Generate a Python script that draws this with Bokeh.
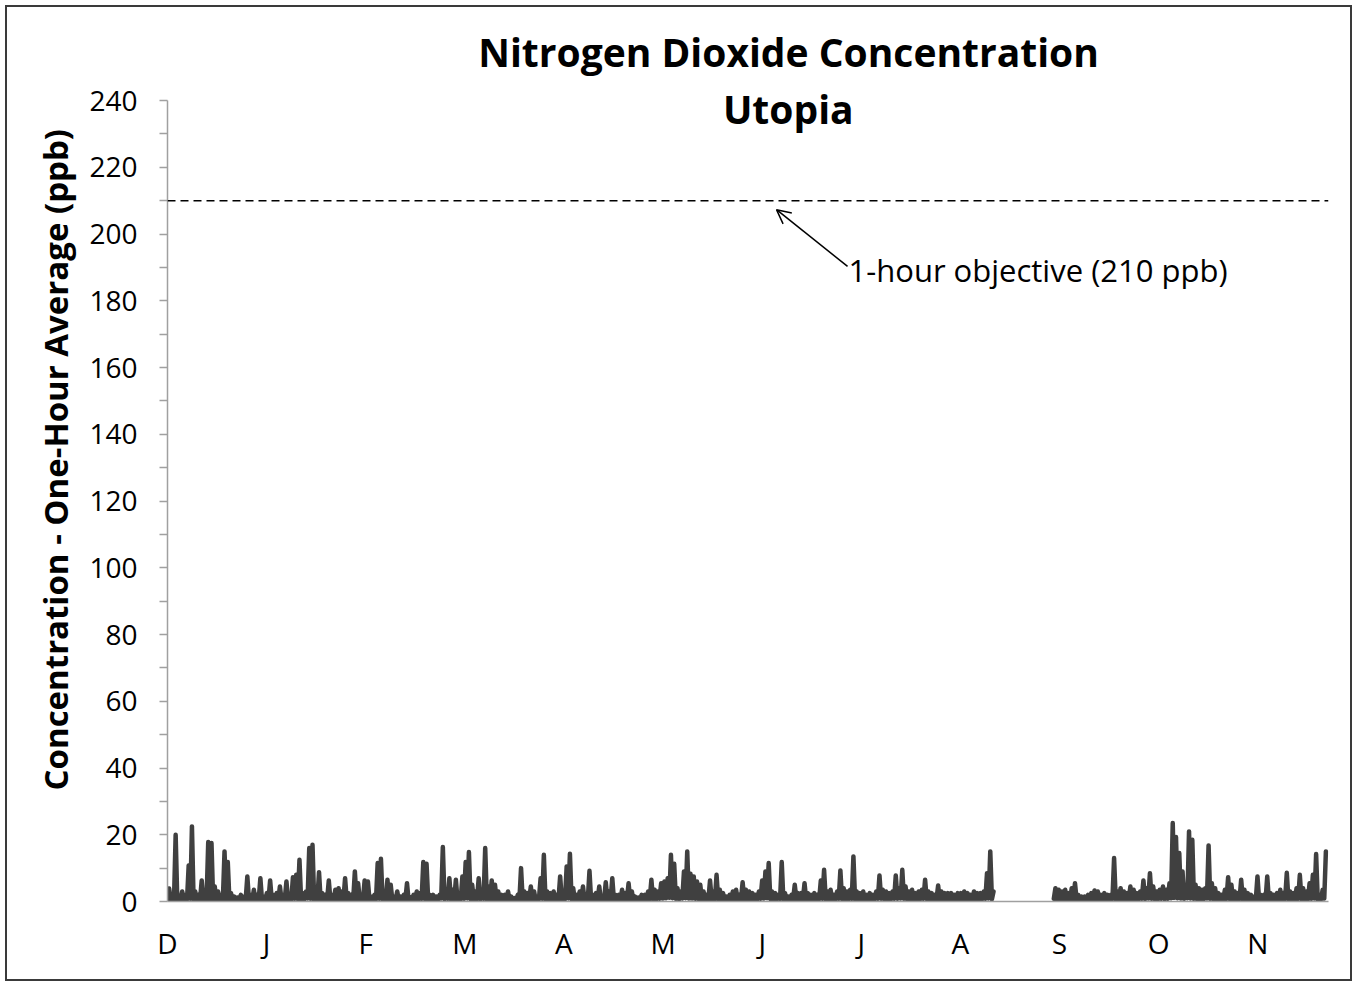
import math
from bokeh.plotting import figure
from bokeh.models import Range1d, FixedTicker, Label, Arrow, OpenHead, Span, ColumnDataSource, Title
from bokeh.embed import file_html
from bokeh.resources import INLINE

# ---------------- data ----------------
months = ["D", "J", "F", "M", "A", "M", "J", "J", "A", "S", "O", "N"]
yticks = [0, 20, 40, 60, 80, 100, 120, 140, 160, 180, 200, 220, 240]
objective_ppb = 210
title_line1 = "Nitrogen Dioxide Concentration"
title_line2 = "Utopia"
y_title = "Concentration - One-Hour Average (ppb)"
objective_text = "1-hour objective (210 ppb)"

# daily maximum of the one-hour NO2 average (ppb), None = no data
dec_max = [3.9, 2, 20, 1.5, 3, 2, 10.8, 22.5, 3, 2, 6.3, 2, 17.8, 17.5, 4.5, 3, 2, 15, 11.8, 2.5,
           1.5, 1.2, 2, 1.5, 7.5, 2, 3.5, 2, 7, 1.5, 2.5]
jan_max = [6.3, 2, 2.5, 4.5, 2, 6, 2, 7.3, 8, 12.5, 2.5, 3, 16, 17, 2.5, 8.8, 2.5, 2, 6.3, 2,
           3.5, 4, 3, 7, 2.5, 2, 9, 5.5, 2, 6.3, 6]
feb_max = [1.5, 2, 11.5, 12.8, 3, 6.5, 5, 1.5, 3, 1.5, 2, 5.5, 1.3, 2, 3, 2.5, 11.8, 11.3, 2, 2,
           1.5, 2, 16.3, 3, 7, 3.5, 6.5, 2]
mar_max = [7.5, 11.8, 14.8, 5, 3, 7, 3, 16, 4.5, 6.3, 5, 3, 2, 2, 3, 1.5, 1, 2, 10, 3,
           2.5, 4.5, 3, 1.5, 7, 14, 3, 2.5, 3, 2, 7.5]
apr_max = [3, 10.5, 14.3, 4, 2, 3, 4.5, 2, 9.2, 2, 2.5, 4.5, 1.5, 5.8, 3, 7, 2, 2, 3.5, 2.5,
           5.5, 3, 1.5, 1.2, 2, 2, 3, 6.5, 3.5, 3]
may_max = [5.5, 6, 7, 14, 11.3, 4, 3, 9, 15, 8.3, 7.5, 6, 5, 3, 2, 6.3, 3, 8, 3.5, 2.5,
           1.5, 2, 3, 3.5, 2, 5.8, 3.5, 3, 2.5, 2, 3]
jun_max = [6.3, 9, 11.5, 3, 2.5, 2, 11.8, 2.5, 1.5, 2, 5, 2.5, 2.5, 5.5, 2.5, 2, 2.5, 2, 6.3, 9.5,
           3, 3.5, 2, 3, 9.3, 4, 3, 3.5, 13.5, 3]
jul_max = [2.5, 3, 2, 2.5, 2, 3, 7.8, 3.5, 3, 2.5, 3, 7.8, 4, 9.5, 4.5, 3, 3.5, 2.5, 3, 3.5,
           6.5, 3, 2.5, 2, 4.8, 3, 2.5, 2.5, 2.5, 2, 2.5]
aug_max = [2.5, 3, 2.5, 2, 3, 2.5, 2.5, 3, 8.5, 15, 3, None, None, None, None, None, None, None,
           None, None, None, None, None, None, None, None, None, None, None, 4, 3.5]
sep_max = [3, 3.5, 2.5, 4, 5.5, 2, 1.5, 1.5, 2, 2.5, 3.3, 3, 2, 2.5, 2, 2, 13, 3, 4, 3,
           2.5, 4.5, 3.5, 2.5, 3, 6.3, 4, 8.5, 4.5, 3]
oct_max = [3.5, 4.5, 3.5, 5.5, 23.5, 19.3, 14.5, 9, 5, 21, 18.5, 5, 4, 3.5, 4, 16.8, 5.5, 4, 2.5, 2,
           3.5, 7.3, 5, 3, 2.5, 6.5, 3.5, 2.5, 2, 1.5, 7.5]
nov_max = [2, 2, 7.5, 2.5, 2, 2.5, 3.5, 2.5, 8.6, 3, 2.5, 4, 8, 4, 3, 5.5, 8, 14.2, 2, 3.5, 15]

# daily minimum of the one-hour average (ppb)
dec_min = [0.8, 0.5, 0.6, 0.4, 0.7, 0.5, 0.6, 0.8, 0.5, 0.4, 0.6, 0.5, 0.7, 0.6, 0.5, 0.4, 0.6, 0.7, 0.5, 0.4,
           0.3, 0.4, 0.5, 0.4, 0.6, 0.5, 0.4, 0.5, 0.6, 0.4, 0.5]
jan_min = [0.6, 0.5, 0.4, 0.6, 0.5, 0.7, 0.4, 0.6, 0.8, 0.7, 0.5, 0.6, 0.9, 0.8, 0.5, 0.6, 0.4, 0.5, 0.6, 0.4,
           0.5, 0.6, 0.5, 0.7, 0.5, 0.4, 0.6, 0.7, 0.5, 0.6, 0.6]
feb_min = [0.4, 0.5, 0.7, 0.8, 0.6, 0.6, 0.5, 0.4, 0.5, 0.4, 0.4, 0.5, 0.3, 0.4, 0.5, 0.6, 0.8, 0.7, 0.5, 0.4,
           0.4, 0.5, 0.9, 0.7, 0.8, 0.6, 0.7, 0.5]
mar_min = [0.7, 0.8, 0.9, 0.7, 0.6, 0.7, 0.6, 0.8, 0.6, 0.6, 0.7, 0.5, 0.4, 0.4, 0.5, 0.3, 0.3, 0.4, 0.6, 0.5,
           0.5, 0.6, 0.5, 0.4, 0.7, 0.8, 0.6, 0.5, 0.6, 0.5, 0.7]
apr_min = [0.6, 0.7, 0.9, 0.6, 0.5, 0.5, 0.6, 0.4, 0.7, 0.5, 0.5, 0.6, 0.4, 0.6, 0.5, 0.6, 0.4, 0.4, 0.5, 0.5,
           0.6, 0.5, 0.3, 0.3, 0.4, 0.4, 0.5, 0.7, 0.6, 0.6]
may_min = [0.8, 0.9, 1.0, 1.1, 1.0, 0.8, 0.7, 0.9, 1.0, 0.9, 0.9, 0.8, 0.7, 0.6, 0.5, 0.7, 0.6, 0.7, 0.6, 0.5,
           0.4, 0.5, 0.5, 0.6, 0.5, 0.7, 0.6, 0.6, 0.5, 0.5, 0.6]
jun_min = [0.8, 0.9, 1.0, 0.7, 0.6, 0.6, 0.8, 0.6, 0.5, 0.5, 0.7, 0.6, 0.6, 0.7, 0.6, 0.5, 0.6, 0.5, 0.7, 0.8,
           0.6, 0.7, 0.5, 0.6, 0.8, 0.7, 0.6, 0.7, 0.8, 0.7]
jul_min = [0.6, 0.7, 0.6, 0.6, 0.5, 0.7, 0.8, 0.8, 0.7, 0.6, 0.7, 0.8, 0.8, 0.9, 0.8, 0.7, 0.7, 0.6, 0.7, 0.7,
           0.8, 0.7, 0.6, 0.6, 0.7, 0.6, 0.6, 0.6, 0.6, 0.5, 0.6]
aug_min = [0.6, 0.6, 0.6, 0.5, 0.6, 0.6, 0.6, 0.7, 0.8, 0.9, 0.7, None, None, None, None, None, None, None,
           None, None, None, None, None, None, None, None, None, None, None, 0.8, 0.7]
sep_min = [0.6, 0.7, 0.5, 0.6, 0.7, 0.5, 0.4, 0.4, 0.5, 0.5, 0.6, 0.6, 0.5, 0.5, 0.5, 0.5, 0.8, 0.6, 0.7, 0.6,
           0.6, 0.7, 0.6, 0.5, 0.6, 0.8, 0.7, 0.9, 0.8, 0.7]
oct_min = [0.7, 0.8, 0.7, 0.8, 1.0, 1.1, 1.0, 0.9, 0.8, 1.0, 0.9, 0.8, 0.7, 0.7, 0.7, 0.9, 0.8, 0.7, 0.6, 0.5,
           0.6, 0.8, 0.7, 0.6, 0.5, 0.7, 0.6, 0.5, 0.5, 0.4, 0.7]
nov_min = [0.5, 0.5, 0.7, 0.5, 0.5, 0.5, 0.6, 0.5, 0.8, 0.6, 0.5, 0.6, 0.8, 0.7, 0.6, 0.7, 0.8, 0.9, 0.5, 0.6, 0.9]

daily_max = dec_max + jan_max + feb_max + mar_max + apr_max + may_max + jun_max + jul_max + aug_max + sep_max + oct_max + nov_max
daily_min = dec_min + jan_min + feb_min + mar_min + apr_min + may_min + jun_min + jul_min + aug_min + sep_min + oct_min + nov_min

# ---------------- build the series ----------------
xs, ys = [], []
for d, (lo, hi) in enumerate(zip(daily_min, daily_max)):
    if hi is None:
        xs.append(d + 0.5)
        ys.append(float("nan"))
        continue
    xs += [d, d + 0.5]
    ys += [lo, hi]
src = ColumnDataSource(dict(x=xs, y=ys))

month_len = 365 / 12
month_pos = [i * month_len for i in range(len(months))]

FONT = "Open Sans"

# frame extends above the 240 tick so that the two title lines sit inside it
p = figure(width=1347, height=976, output_backend="svg", toolbar_location=None,
           x_range=Range1d(0, 356.3), y_range=Range1d(0, 267.87),
           min_border_left=160, min_border_right=26, min_border_top=0, min_border_bottom=82)
p.styles = {"border": "2px solid #3a3a3a", "margin-left": "5px", "margin-top": "5px"}
p.outline_line_color = None
p.xgrid.visible = False
p.ygrid.visible = False
p.background_fill_color = "white"
p.border_fill_color = "white"

p.add_layout(Title(text=y_title, align="left", offset=111, standoff=17,
                   text_font=FONT, text_font_style="bold", text_font_size="33px", text_color="black"),
             "left")

p.line("x", "y", source=src, line_color="#404040", line_width=4.5, line_join="round", line_cap="round")

p.add_layout(Span(location=objective_ppb, dimension="width", line_color="black",
                  line_dash="8 5", line_width=1.5))

# axes
ax = p.yaxis[0]
ax.bounds = (yticks[0], yticks[-1])
ax.ticker = FixedTicker(ticks=yticks, minor_ticks=[t + 10 for t in yticks[:-1]])
ax.axis_line_color = "#a0a0a0"
ax.axis_line_width = 1.5
ax.major_tick_line_color = "#a0a0a0"
ax.minor_tick_line_color = "#a0a0a0"
ax.major_tick_line_width = 1.5
ax.minor_tick_line_width = 1.5
ax.major_tick_in = 0
ax.major_tick_out = 8
ax.minor_tick_in = 0
ax.minor_tick_out = 8
ax.major_label_standoff = 22
ax.major_label_text_font = FONT
ax.major_label_text_font_size = "28px"
ax.major_label_text_color = "black"

bx = p.xaxis[0]
bx.ticker = FixedTicker(ticks=month_pos, minor_ticks=[])
bx.major_label_overrides = {pos: m for pos, m in zip(month_pos, months)}
bx.axis_line_color = "#a0a0a0"
bx.axis_line_width = 1.5
bx.major_tick_in = 0
bx.major_tick_out = 0
bx.minor_tick_in = 0
bx.minor_tick_out = 0
bx.major_label_standoff = 22
bx.major_label_text_font = FONT
bx.major_label_text_font_size = "28px"
bx.major_label_text_color = "black"

# title lines and annotation
p.add_layout(Label(x=190.6, y=254.7, text=title_line1, text_align="center", text_baseline="middle",
                   text_font=FONT, text_font_style="bold", text_font_size="39px", text_color="black"))
p.add_layout(Label(x=190.5, y=237.6, text=title_line2, text_align="center", text_baseline="middle",
                   text_font=FONT, text_font_style="bold", text_font_size="39px", text_color="black"))
p.add_layout(Label(x=209.0, y=189.1, text=objective_text, text_align="left", text_baseline="middle",
                   text_font=FONT, text_font_size="31px", text_color="black"))
p.add_layout(Arrow(x_start=208.7, y_start=190.3, x_end=186.9, y_end=207.3,
                   line_color="black", line_width=1.5,
                   end=OpenHead(size=14, line_color="black", line_width=1.5)))

open("out.html", "w").write(file_html(p, INLINE))
